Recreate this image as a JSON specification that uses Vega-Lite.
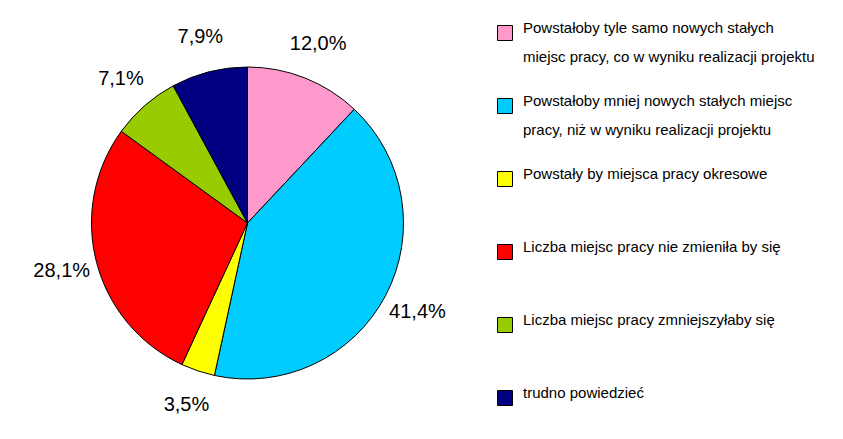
{
  "$schema": "https://vega.github.io/schema/vega-lite/v6.json",
  "width": 495,
  "height": 432,
  "autosize": {"type": "none"},
  "padding": {"left": 0, "top": 7, "right": 348, "bottom": 0},
  "background": "white",
  "config": {"view": {"stroke": null}, "font": "Liberation Sans"},
  "data": {
    "values": [
      {"id": 1, "cat": "Powstałoby tyle samo nowych stałych|miejsc pracy, co w wyniku realizacji projektu", "value": 12.0},
      {"id": 2, "cat": "Powstałoby mniej nowych stałych miejsc|pracy, niż w wyniku realizacji projektu", "value": 41.4},
      {"id": 3, "cat": "Powstały by miejsca pracy okresowe", "value": 3.5},
      {"id": 4, "cat": "Liczba miejsc pracy nie zmieniła by się", "value": 28.1},
      {"id": 5, "cat": "Liczba miejsc pracy zmniejszyłaby się", "value": 7.1},
      {"id": 6, "cat": "trudno powiedzieć", "value": 7.9}
    ]
  },
  "transform": [
    {"calculate": "replace(format(datum.value, '.1f'), '.', ',') + '%'", "as": "label"}
  ],
  "encoding": {
    "theta": {"field": "value", "type": "quantitative", "stack": true},
    "order": {"field": "id", "type": "quantitative"}
  },
  "layer": [
    {
      "mark": {"type": "arc", "outerRadius": 156, "stroke": "black", "strokeWidth": 1},
      "encoding": {
        "color": {
          "field": "cat",
          "type": "nominal",
          "scale": {
            "domain": [
              "Powstałoby tyle samo nowych stałych|miejsc pracy, co w wyniku realizacji projektu",
              "Powstałoby mniej nowych stałych miejsc|pracy, niż w wyniku realizacji projektu",
              "Powstały by miejsca pracy okresowe",
              "Liczba miejsc pracy nie zmieniła by się",
              "Liczba miejsc pracy zmniejszyłaby się",
              "trudno powiedzieć"
            ],
            "range": ["#FF99CC", "#00CCFF", "#FFFF00", "#FF0000", "#99CC00", "#000080"]
          },
          "legend": {
            "title": null,
            "orient": "none",
            "legendX": 497,
            "legendY": 18,
            "padding": 0,
            "symbolType": "square",
            "symbolSize": 225,
            "symbolStrokeColor": "black",
            "symbolStrokeWidth": 1,
            "symbolOpacity": 1,
            "labelFont": "Liberation Sans",
            "labelFontSize": 15,
            "labelColor": "black",
            "labelLimit": 0,
            "labelOffset": 10,
            "labelBaseline": "alphabetic",
            "labelExpr": "length(split(datum.label, '|')) > 1 ? split(datum.label, '|') : [datum.label, '']",
            "rowPadding": 29,
            "encode": {"labels": {"update": {"lineHeight": {"value": 29}}}}
          }
        }
      }
    },
    {
      "mark": {"type": "text", "radius": 192, "fontSize": 20, "color": "black", "font": "Liberation Sans"},
      "encoding": {"text": {"field": "label", "type": "nominal"}}
    }
  ]
}
